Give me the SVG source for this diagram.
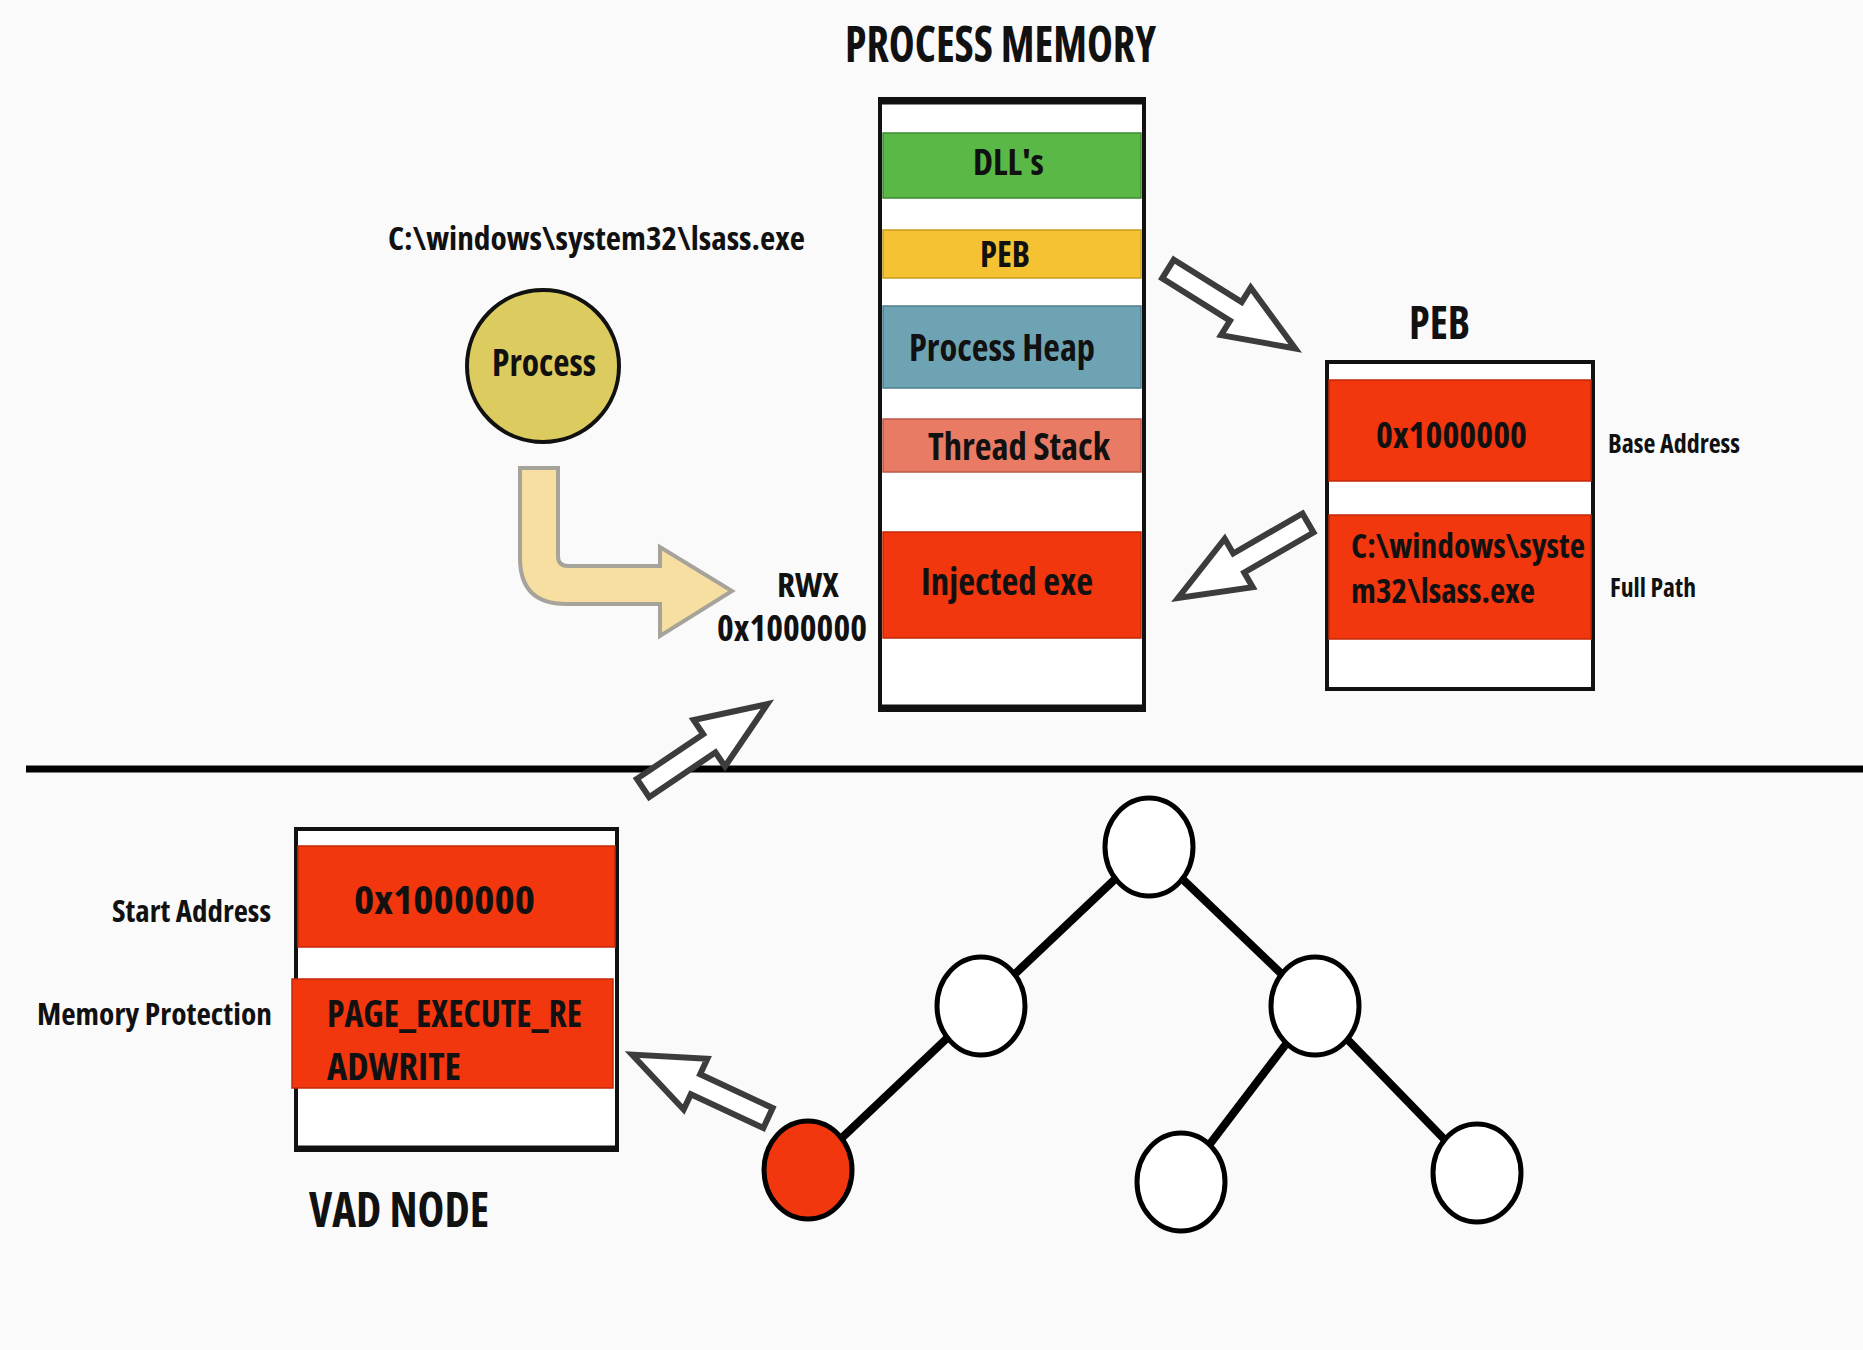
<svg xmlns="http://www.w3.org/2000/svg" xmlns:xlink="http://www.w3.org/1999/xlink" width="1863" height="1350" viewBox="0 0 1863 1350">
  <style>
    text { font-family: "Open Sans", "Liberation Sans", sans-serif; font-weight: 700; font-stretch: condensed; fill: #111; }
    .band { stroke-width: 1.5; }
    .box { fill: #fff; stroke: #111; stroke-width: 4; }
    .hollow { fill: #fff; stroke: #3c3c3c; stroke-width: 6; stroke-linejoin: miter; }
    .edge { stroke: #000; stroke-width: 8; }
    .tnode { fill: #fff; stroke: #000; stroke-width: 5; }
    .red { fill: #f2360e; stroke: #c22a08; }
  </style>
  <defs>
    <!-- block arrow pointing along +x, tail at origin -->
    <path id="hollowArrow" d="M0,-11 H80 V-28 L150,0 L80,28 V11 H0 Z"/>
  </defs>

  <rect x="0" y="0" width="1863" height="1350" fill="#fafafa"/>

  <!-- section divider -->
  <line x1="26" y1="769" x2="1863" y2="769" stroke="#000" stroke-width="7"/>

  <!-- process memory layout -->
  <g id="process-memory">
    <text x="845" y="62" font-size="50" textLength="311" lengthAdjust="spacingAndGlyphs">PROCESS MEMORY</text>
    <rect class="box" x="880" y="99" width="264" height="611" stroke-width="5"/>
    <line x1="878" y1="101" x2="1146" y2="101" stroke="#111" stroke-width="7"/>
    <line x1="878" y1="708" x2="1146" y2="708" stroke="#111" stroke-width="7"/>
    <rect class="band" x="883" y="133" width="258" height="65" fill="#5ab946" stroke="#3f8a33"/>
    <rect class="band" x="883" y="230" width="258" height="48" fill="#f4c233" stroke="#c99c22"/>
    <rect class="band" x="883" y="306" width="258" height="82" fill="#6ea3b3" stroke="#4e7f8e"/>
    <rect class="band" x="883" y="419" width="258" height="53" fill="#e97a64" stroke="#b95a47"/>
    <rect class="band red" x="883" y="532" width="258" height="106"/>
    <text x="973" y="175" font-size="36" textLength="71" lengthAdjust="spacingAndGlyphs">DLL's</text>
    <text x="980" y="267" font-size="36" textLength="50" lengthAdjust="spacingAndGlyphs">PEB</text>
    <text x="909" y="361" font-size="38" textLength="186" lengthAdjust="spacingAndGlyphs">Process Heap</text>
    <text x="928" y="460" font-size="38" textLength="182" lengthAdjust="spacingAndGlyphs">Thread Stack</text>
    <text x="921" y="595" font-size="38" textLength="172" lengthAdjust="spacingAndGlyphs">Injected exe</text>
  </g>

  <!-- process node -->
  <g id="process">
    <text x="388" y="250" font-size="32" textLength="417" lengthAdjust="spacingAndGlyphs">C:\windows\system32\lsass.exe</text>
    <circle cx="543" cy="366" r="76" fill="#dccb5e" stroke="#111" stroke-width="4"/>
    <text x="492" y="376" font-size="38" textLength="104" lengthAdjust="spacingAndGlyphs">Process</text>
  </g>

  <!-- injected region label -->
  <g id="rwx-label">
    <text x="777" y="597" font-size="34" textLength="62" lengthAdjust="spacingAndGlyphs">RWX</text>
    <text x="717" y="641" font-size="36" textLength="150" lengthAdjust="spacingAndGlyphs">0x1000000</text>
  </g>

  <!-- PEB structure -->
  <g id="peb">
    <text x="1409" y="339" font-size="46" textLength="61" lengthAdjust="spacingAndGlyphs">PEB</text>
    <rect class="box" x="1327" y="362" width="266" height="327"/>
    <rect class="band red" x="1329" y="380" width="262" height="101"/>
    <rect class="band red" x="1329" y="515" width="262" height="124"/>
    <text x="1376" y="448" font-size="36" textLength="151" lengthAdjust="spacingAndGlyphs">0x1000000</text>
    <text x="1351" y="558" font-size="34" textLength="234" lengthAdjust="spacingAndGlyphs">C:\windows\syste</text>
    <text x="1351" y="603" font-size="34" textLength="184" lengthAdjust="spacingAndGlyphs">m32\lsass.exe</text>
    <text x="1608" y="453" font-size="27" textLength="132" lengthAdjust="spacingAndGlyphs">Base Address</text>
    <text x="1610" y="597" font-size="27" textLength="86" lengthAdjust="spacingAndGlyphs">Full Path</text>
  </g>

  <!-- VAD node detail -->
  <g id="vad-node">
    <text x="112" y="922" font-size="31" textLength="159" lengthAdjust="spacingAndGlyphs">Start Address</text>
    <text x="37" y="1025" font-size="31" textLength="235" lengthAdjust="spacingAndGlyphs">Memory Protection</text>
    <rect class="box" x="296" y="829" width="321" height="321"/>
    <line x1="294" y1="1148" x2="619" y2="1148" stroke="#111" stroke-width="5"/>
    <rect class="band red" x="298" y="846" width="317" height="101"/>
    <rect class="band red" x="292" y="979" width="321" height="109"/>
    <text x="354" y="914" font-size="40" textLength="181" lengthAdjust="spacingAndGlyphs">0x1000000</text>
    <text x="327" y="1027" font-size="38" textLength="255" lengthAdjust="spacingAndGlyphs">PAGE_EXECUTE_RE</text>
    <text x="327" y="1080" font-size="38" textLength="134" lengthAdjust="spacingAndGlyphs">ADWRITE</text>
    <text x="309" y="1227" font-size="48" textLength="180" lengthAdjust="spacingAndGlyphs">VAD NODE</text>
  </g>

  <!-- VAD tree -->
  <g id="vad-tree">
    <g id="tree-edges">
      <line class="edge" x1="1149" y1="847" x2="981" y2="1006"/>
      <line class="edge" x1="1149" y1="847" x2="1315" y2="1006"/>
      <line class="edge" x1="981" y1="1006" x2="808" y2="1170"/>
      <line class="edge" x1="1315" y1="1006" x2="1181" y2="1182"/>
      <line class="edge" x1="1315" y1="1006" x2="1477" y2="1173"/>
    </g>
    <ellipse id="tree-root" class="tnode" cx="1149" cy="847" rx="44" ry="49"/>
    <ellipse id="tree-left" class="tnode" cx="981" cy="1006" rx="44" ry="49"/>
    <ellipse id="tree-right" class="tnode" cx="1315" cy="1006" rx="44" ry="49"/>
    <ellipse id="tree-target" class="tnode" cx="808" cy="1170" rx="44" ry="49" style="fill:#f2360e"/>
    <ellipse id="tree-mid" class="tnode" cx="1181" cy="1182" rx="44" ry="49"/>
    <ellipse id="tree-far" class="tnode" cx="1477" cy="1173" rx="44" ry="49"/>
  </g>

  <!-- connectors -->
  <g id="connectors">
    <path id="process-to-region" d="M520,468 L558,468 L558,556 Q558,566 568,566 L660,566 L660,547 L732,591 L660,636 L660,604 L566,604 Q520,604 520,558 Z" fill="#f6dfa0" stroke="#a6a39b" stroke-width="4" stroke-linejoin="miter"/>
    <use xlink:href="#hollowArrow" class="hollow" transform="translate(1168,269) rotate(32)"/>
    <use xlink:href="#hollowArrow" class="hollow" transform="translate(1308,523) rotate(150)"/>
    <use xlink:href="#hollowArrow" class="hollow" transform="translate(643,788) rotate(-34)"/>
    <use xlink:href="#hollowArrow" class="hollow" transform="translate(768,1118) rotate(-155)"/>
  </g>
</svg>
